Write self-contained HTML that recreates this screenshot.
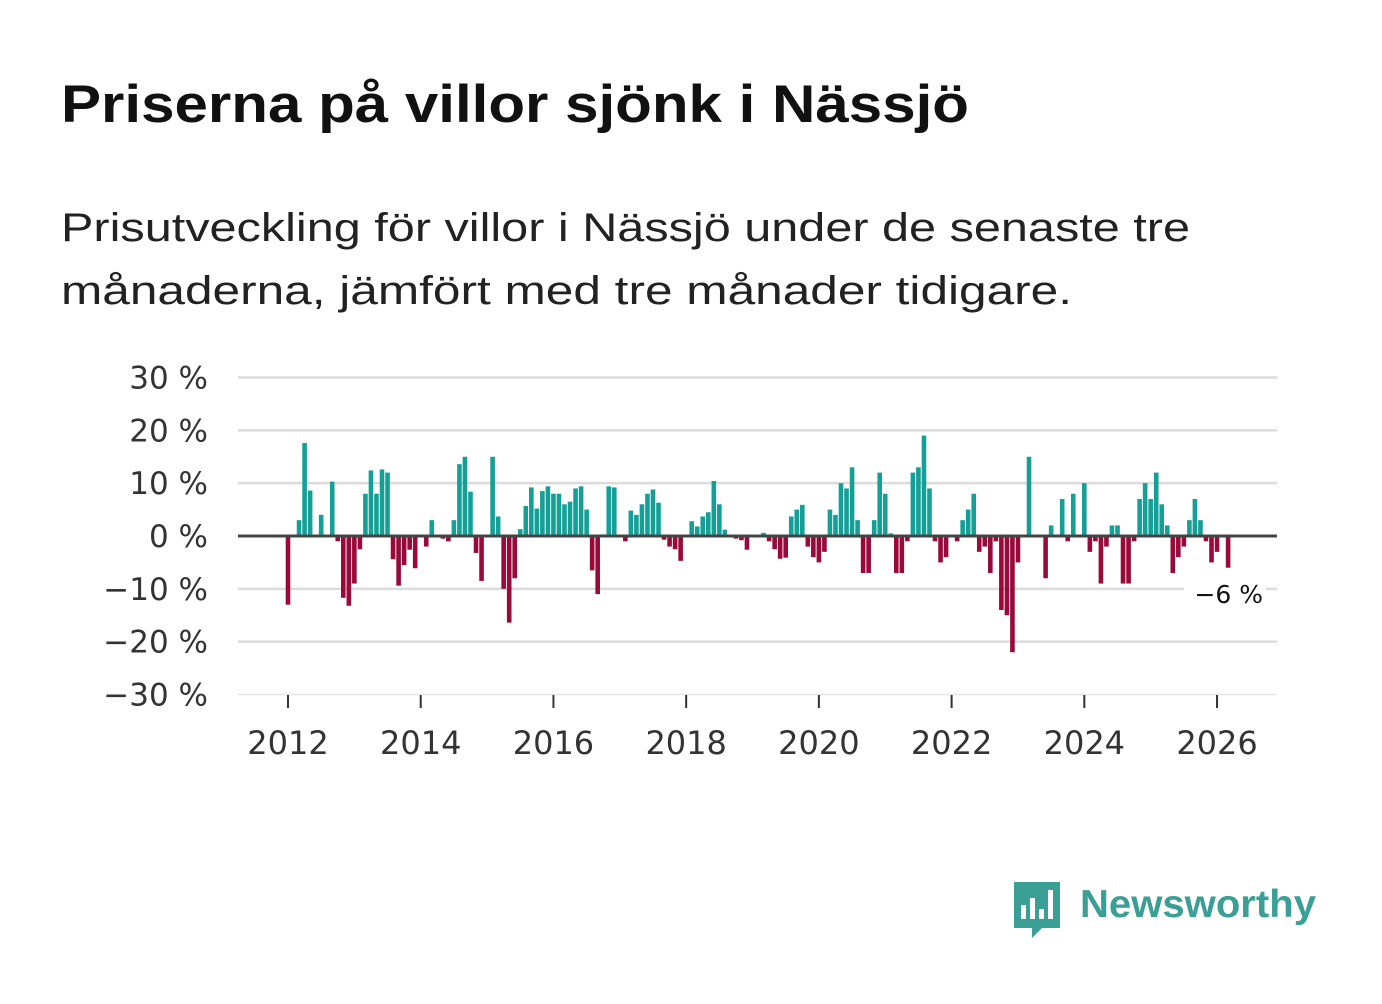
<!DOCTYPE html>
<html><head><meta charset="utf-8">
<style>
body{margin:0;background:#fff;width:1382px;height:999px;overflow:hidden;font-family:"Liberation Sans",sans-serif;}
</style></head>
<body>
<svg width="1382" height="999" xmlns="http://www.w3.org/2000/svg">
<text x="61" y="122" font-family="Liberation Sans, sans-serif" font-weight="bold" font-size="53" fill="#111" textLength="908" lengthAdjust="spacingAndGlyphs">Priserna på villor sjönk i Nässjö</text>
<text x="61" y="241" font-family="Liberation Sans, sans-serif" font-size="40" fill="#222" textLength="1129" lengthAdjust="spacingAndGlyphs">Prisutveckling för villor i Nässjö under de senaste tre</text>
<text x="61" y="304" font-family="Liberation Sans, sans-serif" font-size="40" fill="#222" textLength="1011" lengthAdjust="spacingAndGlyphs">månaderna, jämfört med tre månader tidigare.</text>
<g id="grid"></g>
<g id="yticks"></g>
<g id="xticks"></g>
<g id="bars"></g>
<line x1="238" x2="1277" y1="536" y2="536" stroke="#444" stroke-width="3"/>
<rect x="1184" y="576" width="82" height="34" fill="#fff"/>
<text x="1263" y="603" text-anchor="end" font-family="DejaVu Sans, sans-serif" font-size="25" fill="#111">−6 %</text>
<g>
<path d="M1014 882 h46 v46 h-18 l-10 10 v-10 h-18 z" fill="#3a9f94"/>
<rect x="1021" y="905" width="5" height="14" fill="#fff"/>
<rect x="1030" y="898" width="5" height="21" fill="#fff"/>
<rect x="1039" y="909" width="5" height="10" fill="#fff"/>
<rect x="1048" y="890" width="5" height="29" fill="#fff"/>
<text x="1080" y="917" font-family="Liberation Sans, sans-serif" font-weight="bold" font-size="39" fill="#3a9f94" textLength="236" lengthAdjust="spacingAndGlyphs">Newsworthy</text>
</g>
</svg>
<script>
const startYear = 2012;
const values = [
-13,0,3,17.6,8.6,0,4,0,10.3,-1,-11.7,-13.2,
-9,-2.5,8,12.4,8,12.6,12,-4.4,-9.4,-5.5,-2.6,-6.1,
0,-2,3,0,-0.5,-1,3,13.6,15,8.4,-3.2,-8.5,
0,15,3.7,-10,-16.4,-8,1.3,5.7,9.2,5.2,8.5,9.4,
8,8,6,6.5,9,9.4,5,-6.5,-11,0.3,9.4,9.2,
0,-1,4.8,4,6,8,8.8,6.3,-0.7,-2,-2.5,-4.7,
0,2.8,1.8,3.7,4.5,10.4,6,1.2,0,-0.5,-0.8,-2.6,
0,0,0.6,-1,-2.5,-4.3,-4.1,3.7,5,5.9,-2,-4,
-5,-3,5,4,10,9,13,3,-7,-7,3,12,
8,0.5,-7,-7,-1,12,13,19,9,-1,-5,-4,
0,-1,3,5,8,-3,-2,-7,-1,-14,-15,-22,
-5,0,15,0,0,-8,2,0,7,-1,8,0,
10,-3,-1,-9,-2,2,2,-9,-9,-1,7,10,
7,12,6,2,-7,-4,-2,3,7,3,-1,-5,
-3,0,-6];
const yTicks = [30,20,10,0,-10,-20,-30];
const yTickLabels = ["30 %","20 %","10 %","0 %","−10 %","−20 %","−30 %"];
const xTickYears = [2012,2014,2016,2018,2020,2022,2024,2026];

const NS="http://www.w3.org/2000/svg";
function y(v){return 536 - v*5.283;}
function x(i){return 288 + i*5.53;}
function mk(tag,attrs,parent){const e=document.createElementNS(NS,tag);for(const k in attrs)e.setAttribute(k,attrs[k]);parent.appendChild(e);return e;}
const grid=document.getElementById('grid'),yt=document.getElementById('yticks'),xt=document.getElementById('xticks'),bars=document.getElementById('bars');
yTicks.forEach((t,k)=>{
  const l=mk('line',{x1:238,x2:1277,y1:y(t),y2:y(t),stroke:t===-30?'#e6e6e6':'#dcdcdc','stroke-width':t===-30?1.5:2.5},grid);
  
  
  const tx=mk('text',{x:208,y:y(t)+11,'text-anchor':'end','font-family':'DejaVu Sans, sans-serif','font-size':31,fill:'#333'},yt);
  tx.textContent=yTickLabels[k];
  
  
});
xTickYears.forEach(yr=>{
  const xx=x((yr-startYear)*12);
  const l=mk('line',{x1:xx,x2:xx,y1:695,y2:708,stroke:'#333','stroke-width':2},xt);
  
  
  const tx=mk('text',{x:xx,y:754,'text-anchor':'middle','font-family':'DejaVu Sans, sans-serif','font-size':32,fill:'#333'},xt);
  tx.textContent=String(yr);
  
  
});
values.forEach((v,i)=>{
  if(v===0)return;
  const top=Math.min(y(v),y(0)), h=Math.abs(y(v)-y(0));
  const r=mk('rect',{x:x(i)-2.3,y:top,width:4.6,height:h,fill:v>0?'#14a096':'#990a3a'},bars);
  
  
});
</script>
</body></html>
